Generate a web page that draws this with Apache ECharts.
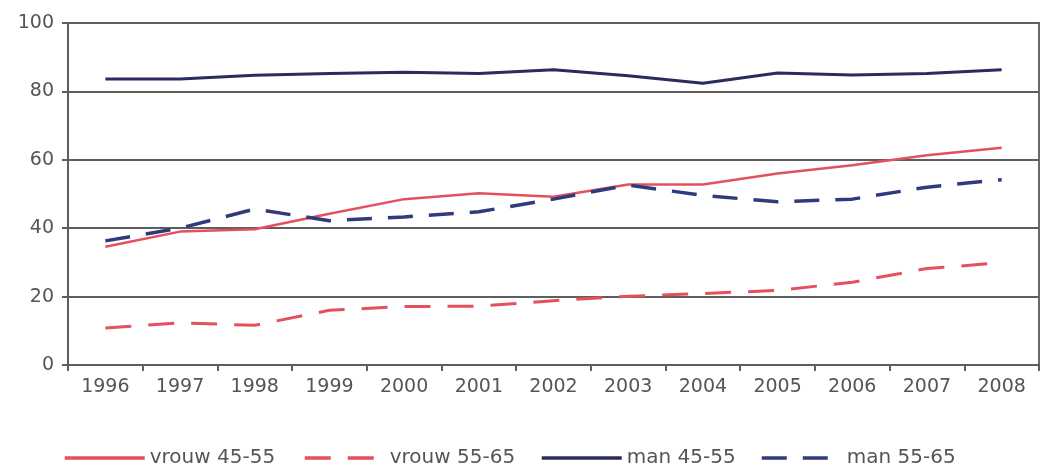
<!DOCTYPE html>
<html>
<head>
<meta charset="utf-8">
<script src="https://cdn.jsdelivr.net/npm/echarts@6/dist/echarts.min.js"></script>
<style>
html,body{margin:0;padding:0;background:#fff;}
#c{width:1046px;height:468px;}
</style>
</head>
<body>
<div id="c"></div>
<script>
const years = ['1996','1997','1998','1999','2000','2001','2002','2003','2004','2005','2006','2007','2008'];
const vrouw4555 = [34.6, 39.0, 39.7, 44.2, 48.5, 50.2, 49.2, 52.8, 52.8, 56.0, 58.4, 61.3, 63.5];
const vrouw5565 = [10.8, 12.3, 11.6, 16.0, 17.1, 17.2, 18.8, 20.1, 20.9, 21.8, 24.2, 28.2, 29.9];
const man4555 = [83.6, 83.6, 84.7, 85.2, 85.6, 85.2, 86.3, 84.6, 82.4, 85.4, 84.8, 85.2, 86.3];
const man5565 = [36.3, 40.0, 45.6, 42.2, 43.3, 44.8, 48.5, 52.6, 49.6, 47.7, 48.5, 52.0, 54.2];
const yTicks = [0, 20, 40, 60, 80, 100];

const RED = '#e4505d', NAVY = '#2a2c5e', BLUE = '#2f3b7c';
const chart = echarts.init(document.getElementById('c'), null, {renderer: 'canvas'});
const legendText = {fontFamily: 'DejaVu Sans', fontSize: 20, color: '#555'};
function lg(name, left) {
  return {data: [name], left: left, top: 443, itemWidth: 80, itemHeight: 14, itemGap: 0,
          itemStyle: {opacity: 0}, lineStyle: {width: 3.5}, textStyle: legendText, selectedMode: false};
}
chart.setOption({
  animation: false,
  backgroundColor: '#fff',
  grid: {left: 68, right: 7, top: 23, bottom: 103, show: true, borderColor: '#6a6a6a', borderWidth: 2},
  legend: [lg('vrouw 45-55', 58), lg('vrouw 55-65', 298), lg('man 45-55', 535), lg('man 55-65', 755)],
  xAxis: {
    type: 'category', data: years, boundaryGap: true,
    axisLine: {lineStyle: {color: '#5e5e5e', width: 2}},
    axisTick: {show: true, length: 6, lineStyle: {color: '#5e5e5e', width: 2}},
    axisLabel: {fontFamily: 'DejaVu Sans', fontSize: 19, color: '#555', margin: 13}
  },
  yAxis: {
    type: 'value', min: 0, max: 100, interval: 20,
    axisLine: {show: true, lineStyle: {color: '#5e5e5e', width: 2}},
    axisTick: {show: true, length: 6, lineStyle: {color: '#5e5e5e', width: 2}},
    axisLabel: {fontFamily: 'DejaVu Sans', fontSize: 19, color: '#555', margin: 14,
                formatter: v => yTicks.includes(v) ? String(v) : ''},
    splitLine: {lineStyle: {color: '#5e5e5e', width: 2}}
  },
  series: [
    {name: 'vrouw 45-55', type: 'line', data: vrouw4555, symbol: 'none', lineStyle: {color: RED, width: 2.5}, itemStyle: {color: RED}},
    {name: 'vrouw 55-65', type: 'line', data: vrouw5565, symbol: 'none', lineStyle: {color: RED, width: 3, type: [26, 17]}, itemStyle: {color: RED}},
    {name: 'man 45-55', type: 'line', data: man4555, symbol: 'none', lineStyle: {color: NAVY, width: 3}, itemStyle: {color: NAVY}},
    {name: 'man 55-65', type: 'line', data: man5565, symbol: 'none', lineStyle: {color: BLUE, width: 3.5, type: [25, 16]}, itemStyle: {color: BLUE}}
  ]
});
</script>
</body>
</html>
